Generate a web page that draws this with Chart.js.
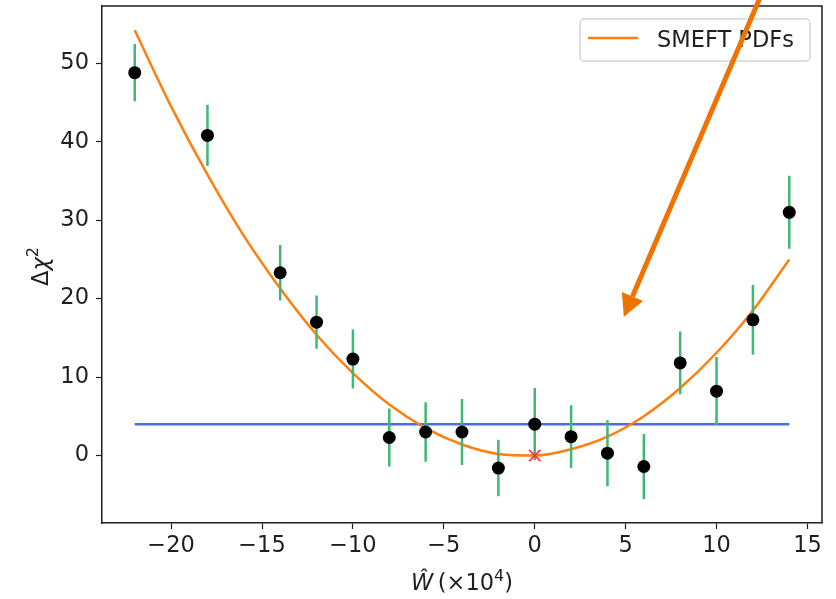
<!DOCTYPE html>
<html>
<head>
<meta charset="utf-8">
<script src="https://cdn.jsdelivr.net/npm/chart.js@4.4.1/dist/chart.umd.min.js"></script>
<style>
  html, body { margin: 0; padding: 0; background: #fff; }
  #wrap { width: 836px; height: 599px; }
</style>
</head>
<body>
<div id="wrap"><canvas id="fitChart" width="836" height="599"></canvas></div>
<script>
// scan points: W-hat (x 10^4) vs delta chi^2 with uncertainties
const wPoints    = [-22, -18, -14, -12, -10, -8, -6, -4, -2, 0, 2, 4, 6, 8, 10, 12, 14];
const chi2Values = [48.8, 40.8, 23.3, 17.0, 12.3, 2.3, 3.0, 3.0, -1.6, 4.0, 2.4, 0.3, -1.4, 11.8, 8.2, 17.3, 31.0];
const chi2Errors = [3.65, 3.9, 3.55, 3.4, 3.75, 3.7, 3.8, 4.2, 3.6, 4.6, 4.0, 4.2, 4.15, 4.0, 4.35, 4.45, 4.65];

// SMEFT PDFs curve
const fitW    = [-22, -20, -18, -16, -14, -12, -10, -8, -6, -4, -2, 0, 2, 4, 6, 8, 10, 12, 14];
const fitChi2 = [54.2, 44.5, 35.8, 28.0, 21.3, 15.4, 10.5, 6.5, 3.5, 1.4, 0.2, 0.0, 0.8, 2.4, 5.0, 8.6, 13.1, 18.5, 25.0];

// 1-sigma threshold line and best-fit marker
const thresholdW    = [-22, 14];
const thresholdChi2 = [4, 4];
const bestFitW = [0];
const bestFitChi2 = [0];

// annotation arrow (tail, head) in data units
const arrowTail = [12.6, 59.5];
const arrowHead = [4.9, 17.7];

const xTicks = [-20, -15, -10, -5, 0, 5, 10, 15];
const yTicks = [0, 10, 20, 30, 40, 50];

const FONT = "'DejaVu Sans', sans-serif";
const INK = '#1f1f1f';

function pts(xs, ys) {
  return xs.map((x, i) => ({ x: x, y: ys[i] }));
}

// vertical error segments separated by gaps
const errorSegments = [];
wPoints.forEach((x, i) => {
  errorSegments.push({ x: x, y: chi2Values[i] - chi2Errors[i] });
  errorSegments.push({ x: x, y: chi2Values[i] + chi2Errors[i] });
  errorSegments.push({ x: x, y: null });
});

function minusLabel(v) {
  return v < 0 ? '\u2212' + Math.abs(v) : String(v);
}

// draws a run of text pieces centred on 0
function drawPieces(ctx, pieces, y) {
  let total = 0;
  pieces.forEach(p => { ctx.font = p.font; p.w = ctx.measureText(p.text).width; total += p.w; });
  let x = -total / 2;
  pieces.forEach(p => {
    ctx.font = p.font;
    ctx.fillText(p.text, x, y - (p.raise || 0));
    x += p.w;
  });
}

const extras = {
  id: 'extras',
  afterDatasetsDraw(chart) {
    const { ctx, chartArea: a } = chart;
    ctx.save();

    // top and right spines
    ctx.strokeStyle = INK;
    ctx.lineWidth = 1.5;
    ctx.beginPath();
    ctx.moveTo(a.left, a.top);
    ctx.lineTo(a.right, a.top);
    ctx.lineTo(a.right, a.bottom);
    ctx.stroke();

    // legend box
    const bx = a.right - 242, by = a.top + 13, bw = 230, bh = 42;
    ctx.beginPath();
    ctx.roundRect(bx, by, bw, bh, 4);
    ctx.fillStyle = 'rgba(255,255,255,0.8)';
    ctx.fill();
    ctx.strokeStyle = '#d5d5d5';
    ctx.lineWidth = 1.5;
    ctx.stroke();
    ctx.strokeStyle = '#ff7f0e';
    ctx.lineWidth = 2.5;
    ctx.beginPath();
    ctx.moveTo(bx + 8, by + 19);
    ctx.lineTo(bx + 58, by + 19);
    ctx.stroke();
    ctx.fillStyle = INK;
    ctx.font = '22.5px ' + FONT;
    ctx.textBaseline = 'alphabetic';
    ctx.textAlign = 'left';
    ctx.fillText('SMEFT PDFs', bx + 77, by + 28);

    // axis titles
    ctx.translate((a.left + a.right) / 2, 590);
    drawPieces(ctx, [
      { text: '\u0174', font: 'oblique 22.5px ' + FONT },
      { text: '\u2009(\u00d710', font: '22.5px ' + FONT },
      { text: '4', font: '16px ' + FONT, raise: 9 },
      { text: ')', font: '22.5px ' + FONT }
    ], 0);
    ctx.setTransform(1, 0, 0, 1, 0, 0);
    ctx.translate(48, (a.top + a.bottom) / 2 + 2);
    ctx.rotate(-Math.PI / 2);
    drawPieces(ctx, [
      { text: '\u0394', font: '22.5px ' + FONT },
      { text: '\u03c7', font: 'oblique 22.5px ' + FONT },
      { text: '2', font: '16px ' + FONT, raise: 10 }
    ], 0);
    ctx.restore();
  },
  afterDraw(chart) {
    const { ctx, scales } = chart;
    const x0 = scales.x.getPixelForValue(arrowTail[0]);
    const y0 = scales.y.getPixelForValue(arrowTail[1]);
    const x1 = scales.x.getPixelForValue(arrowHead[0]);
    const y1 = scales.y.getPixelForValue(arrowHead[1]);
    const ang = Math.atan2(y1 - y0, x1 - x0);
    const headLen = 22, headHalf = 11.5;
    const bxp = x1 - headLen * Math.cos(ang), byp = y1 - headLen * Math.sin(ang);
    ctx.save();
    ctx.strokeStyle = '#f07300';
    ctx.fillStyle = '#f07300';
    ctx.lineWidth = 5;
    ctx.beginPath();
    ctx.moveTo(x0, y0);
    ctx.lineTo(bxp, byp);
    ctx.stroke();
    ctx.beginPath();
    ctx.moveTo(x1, y1);
    ctx.lineTo(bxp + headHalf * Math.sin(ang), byp - headHalf * Math.cos(ang));
    ctx.lineTo(bxp - headHalf * Math.sin(ang), byp + headHalf * Math.cos(ang));
    ctx.closePath();
    ctx.fill();
    ctx.restore();
  }
};

const axisCommon = {
  type: 'linear',
  grid: {
    display: true,
    drawOnChartArea: false,
    drawTicks: true,
    tickLength: 6,
    tickWidth: 1.2,
    tickColor: INK
  },
  border: { display: true, color: INK, width: 1.5 },
  ticks: {
    font: { family: FONT, size: 22.5 },
    color: INK,
    callback: v => minusLabel(v)
  }
};

// keep tick labels from pushing the plot area inwards
function noOverhang(s) {
  s.paddingTop = 0;
  s.paddingBottom = 0;
  s.paddingLeft = 0;
  s.paddingRight = 0;
}

new Chart(document.getElementById('fitChart'), {
  type: 'scatter',
  data: {
    datasets: [
      {
        label: 'best fit',
        data: pts(bestFitW, bestFitChi2),
        pointStyle: 'crossRot',
        pointRadius: 8,
        borderColor: '#ff3030',
        borderWidth: 1.6,
        order: 1
      },
      {
        label: 'data',
        data: pts(wPoints, chi2Values),
        pointRadius: 6.5,
        backgroundColor: '#000',
        borderWidth: 0,
        order: 2
      },
      {
        label: 'errors',
        data: errorSegments,
        showLine: true,
        spanGaps: false,
        pointRadius: 0,
        borderColor: '#3fb875',
        borderWidth: 2.5,
        order: 3
      },
      {
        label: 'SMEFT PDFs',
        data: pts(fitW, fitChi2),
        showLine: true,
        cubicInterpolationMode: 'monotone',
        pointRadius: 0,
        borderColor: '#ff7f0e',
        borderWidth: 2.5,
        order: 4
      },
      {
        label: 'threshold',
        data: pts(thresholdW, thresholdChi2),
        showLine: true,
        pointRadius: 0,
        borderColor: '#4a6fe3',
        borderWidth: 2.5,
        order: 5
      }
    ]
  },
  options: {
    responsive: false,
    animation: false,
    events: [],
    layout: { autoPadding: false, padding: { top: 6, right: 14, left: 0, bottom: 0 } },
    plugins: {
      legend: { display: false },
      tooltip: { enabled: false }
    },
    scales: {
      x: Object.assign({}, axisCommon, {
        min: -23.8,
        max: 15.8,
        ticks: Object.assign({}, axisCommon.ticks, { padding: 4, maxRotation: 0, autoSkip: false }),
        afterBuildTicks: s => { s.ticks = xTicks.map(v => ({ value: v })); },
        afterFit: s => { s.height = 76; noOverhang(s); }
      }),
      y: Object.assign({}, axisCommon, {
        min: -8.6,
        max: 57.3,
        ticks: Object.assign({}, axisCommon.ticks, { padding: 7, autoSkip: false }),
        afterBuildTicks: s => { s.ticks = yTicks.map(v => ({ value: v })); },
        afterFit: s => { s.width = 102; noOverhang(s); }
      })
    }
  },
  plugins: [extras]
});
</script>
</body>
</html>
